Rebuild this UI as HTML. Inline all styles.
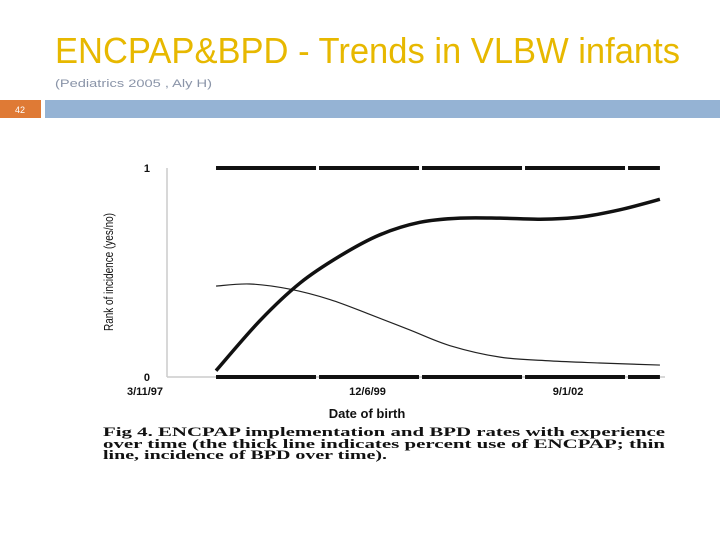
<!DOCTYPE html>
<html><head><meta charset="utf-8"><style>
html,body{margin:0;padding:0;background:#fff;width:720px;height:540px;overflow:hidden}
svg{display:block}
</style></head><body>
<svg id="s" width="720" height="540" xmlns="http://www.w3.org/2000/svg">
<text x="55" y="63" font-family="Liberation Sans, sans-serif" font-size="36" fill="#e7b800" textLength="625" lengthAdjust="spacingAndGlyphs">ENCPAP&amp;BPD - Trends in VLBW infants</text>
<text x="55" y="87" font-family="Liberation Sans, sans-serif" font-size="11" fill="#8a94a8" textLength="157" lengthAdjust="spacingAndGlyphs">(Pediatrics 2005 , Aly H)</text>
<rect x="0" y="100" width="41" height="18" fill="#df7a35"/>
<text x="20" y="113" font-family="Liberation Sans, sans-serif" font-size="9" fill="#fff" text-anchor="middle">42</text>
<rect x="45" y="100" width="675" height="18" fill="#95b3d4"/>
<g id="chart"></g>
<text x="113" y="272" transform="rotate(-90 113 272)" font-family="Liberation Sans, sans-serif" font-size="13" fill="#111" text-anchor="middle" textLength="118" lengthAdjust="spacingAndGlyphs">Rank of incidence (yes/no)</text>
<text x="367" y="418" style="font-family:'Liberation Sans',sans-serif" font-size="13" font-weight="bold" fill="#111" text-anchor="middle">Date of birth</text>
<g font-family="Liberation Serif, serif" font-size="13" font-weight="bold" fill="#111">
<text x="103" y="436" textLength="562" lengthAdjust="spacingAndGlyphs">Fig 4. ENCPAP implementation and BPD rates with experience</text>
<text x="103" y="448" textLength="562" lengthAdjust="spacingAndGlyphs">over time (the thick line indicates percent use of ENCPAP; thin</text>
<text x="103" y="459" textLength="284" lengthAdjust="spacingAndGlyphs">line, incidence of BPD over time).</text>
</g>
</svg>
<script>
const xTickLabels=["3/11/97","12/6/99","9/1/02"];
const xTickYears=[1997.19,1999.93,2002.67];
const yTickLabels=["0","1"];
const yTickValues=[0,1];
const encpapYears=[1998.11,1998.68,1999.20,1999.72,2000.23,2000.75,2001.27,2001.79,2002.31,2002.82,2003.34,2003.86];
const encpapValues=[0.03,0.27,0.45,0.58,0.68,0.74,0.76,0.76,0.755,0.765,0.80,0.85];
const bpdYears=[1998.11,1998.55,1999.07,1999.59,2000.10,2000.62,2001.14,2001.79,2002.44,2003.08,2003.86];
const bpdValues=[0.435,0.445,0.42,0.37,0.30,0.225,0.15,0.095,0.077,0.067,0.057];
const rawRange=[1998.11,2003.86];
const NS="http://www.w3.org/2000/svg";
const g=document.getElementById('chart');
const X=yr=>145+(yr-1997.19)*77.2;
const Y=v=>377-v*209;
function mk(t,a){const e=document.createElementNS(NS,t);for(const k in a)e.setAttribute(k,a[k]);g.appendChild(e);return e;}
let e=mk('line',{x1:167,y1:Y(1),x2:167,y2:Y(0),stroke:'#ccc','stroke-width':1.5});


e=mk('line',{x1:167,y1:Y(0),x2:665,y2:Y(0),stroke:'#ccc','stroke-width':1.5});


yTickValues.forEach((v,i)=>{const t=mk('text',{x:150,y:Y(v)+4,'font-family':'Liberation Sans, sans-serif','font-size':11,'font-weight':'bold','text-anchor':'end',fill:'#111'});t.textContent=yTickLabels[i];

});
xTickYears.forEach((v,i)=>{const t=mk('text',{x:X(v)+(i==1?11:0),y:395,'font-family':'Liberation Sans, sans-serif','font-size':11,'font-weight':'bold','text-anchor':'middle',fill:'#111'});t.textContent=xTickLabels[i];

});
[1,0].forEach(v=>{const r=mk('line',{x1:X(rawRange[0]),y1:Y(v),x2:X(rawRange[1]),y2:Y(v),stroke:'#111','stroke-width':4,'stroke-dasharray':'100 3'});

});
function path(xs,vs){const p=xs.map((x,i)=>[X(x),Y(vs[i])]);let d='M'+p[0];for(let i=0;i<p.length-1;i++){const p0=p[i-1]||p[i],p1=p[i],p2=p[i+1],p3=p[i+2]||p2;d+=' C'+(p1[0]+(p2[0]-p0[0])/6)+','+(p1[1]+(p2[1]-p0[1])/6)+' '+(p2[0]-(p3[0]-p1[0])/6)+','+(p2[1]-(p3[1]-p1[1])/6)+' '+p2;}return d;}
e=mk('path',{d:path(bpdYears,bpdValues),fill:'none',stroke:'#222','stroke-width':1.2});


e=mk('path',{d:path(encpapYears,encpapValues),fill:'none',stroke:'#111','stroke-width':3.5});


</script>
</body></html>
